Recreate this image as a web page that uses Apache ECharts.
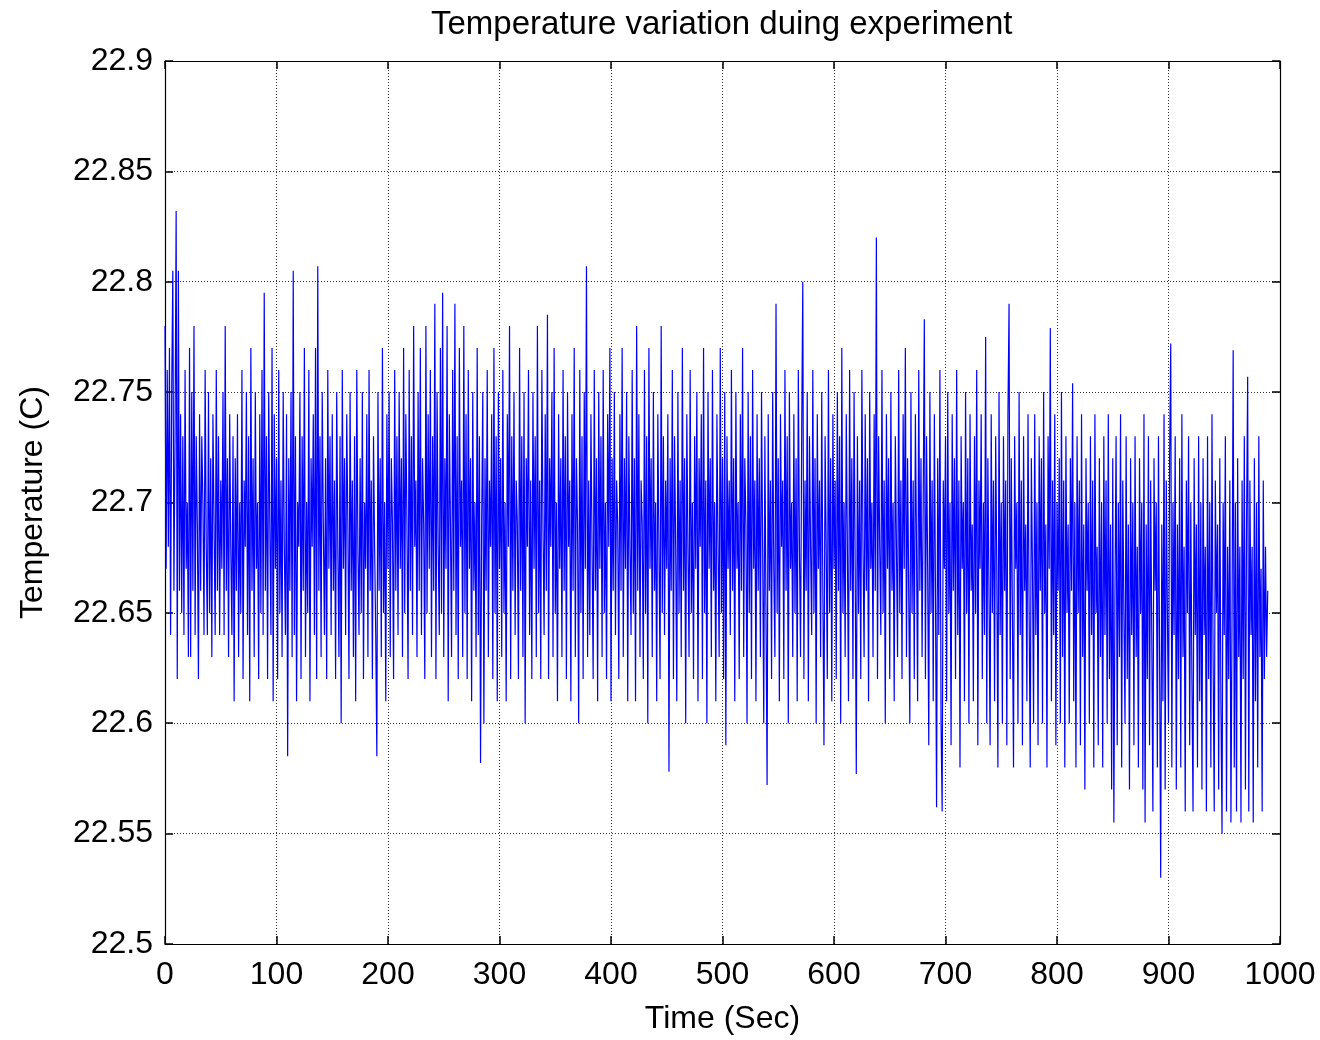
<!DOCTYPE html>
<html>
<head>
<meta charset="utf-8">
<script src="https://cdn.jsdelivr.net/npm/echarts@6/dist/echarts.min.js"></script>
<style>html,body{margin:0;padding:0;background:#fff}#c{width:1320px;height:1040px}</style>
</head>
<body>
<div id="c"></div>
<script>
const titleText = "Temperature variation duing experiment";
const xName = "Time (Sec)";
const yName = "Temperature (C)";
const timeStep = 1;
const xTicks = [0, 100, 200, 300, 400, 500, 600, 700, 800, 900, 1000];
const yTicks = [22.5, 22.55, 22.6, 22.65, 22.7, 22.75, 22.8, 22.85, 22.9];
const temps = [
22.78,22.67,22.76,22.68,22.77,22.64,22.75,22.805,22.66,22.73,22.832,22.62,22.805,22.66,22.74,22.65,22.73,22.64,22.76,22.67,22.70,22.63,22.77,22.63,22.75,22.66,22.78,22.64,22.73,22.69,
22.62,22.74,22.66,22.73,22.70,22.64,22.76,22.68,22.64,22.75,22.65,22.72,22.63,22.74,22.69,22.64,22.76,22.66,22.73,22.64,22.71,22.67,22.75,22.64,22.78,22.66,22.72,22.63,22.74,22.68,
22.64,22.73,22.61,22.72,22.66,22.74,22.63,22.70,22.65,22.76,22.62,22.71,22.68,22.75,22.64,22.73,22.61,22.77,22.66,22.72,22.63,22.75,22.67,22.70,22.62,22.74,22.65,22.76,22.64,22.795,
22.66,22.73,22.62,22.75,22.69,22.64,22.77,22.61,22.74,22.67,22.72,22.62,22.76,22.65,22.71,22.63,22.75,22.68,22.64,22.74,22.585,22.72,22.66,22.75,22.63,22.805,22.64,22.73,22.61,22.70,
22.68,22.75,22.62,22.73,22.66,22.77,22.63,22.70,22.65,22.76,22.61,22.72,22.68,22.74,22.64,22.77,22.62,22.807,22.66,22.73,22.63,22.75,22.69,22.64,22.72,22.62,22.76,22.67,22.73,22.64,
22.74,22.66,22.71,22.62,22.75,22.68,22.63,22.73,22.60,22.76,22.67,22.72,22.64,22.74,22.69,22.62,22.75,22.66,22.71,22.63,22.73,22.61,22.76,22.68,22.64,22.72,22.65,22.75,22.62,22.70,
22.67,22.74,22.63,22.76,22.66,22.71,22.62,22.73,22.68,22.64,22.585,22.75,22.66,22.72,22.63,22.77,22.65,22.70,22.61,22.74,22.67,22.75,22.63,22.72,22.69,22.62,22.76,22.66,22.73,22.64,
22.75,22.67,22.72,22.63,22.77,22.65,22.74,22.69,22.62,22.76,22.66,22.73,22.64,22.78,22.68,22.71,22.63,22.75,22.66,22.77,22.64,22.72,22.69,22.62,22.78,22.65,22.74,22.67,22.76,22.63,
22.73,22.66,22.79,22.62,22.75,22.68,22.64,22.77,22.65,22.795,22.63,22.72,22.67,22.78,22.61,22.74,22.69,22.63,22.76,22.66,22.79,22.64,22.73,22.62,22.77,22.68,22.71,22.63,22.78,22.65,
22.74,22.62,22.76,22.67,22.72,22.61,22.75,22.66,22.70,22.63,22.77,22.64,22.73,22.582,22.69,22.75,22.60,22.72,22.66,22.76,22.63,22.71,22.68,22.74,22.62,22.77,22.65,22.73,22.61,22.75,
22.67,22.72,22.63,22.76,22.65,22.70,22.61,22.74,22.68,22.78,22.62,22.73,22.66,22.75,22.64,22.71,22.69,22.62,22.77,22.66,22.73,22.63,22.75,22.60,22.72,22.68,22.76,22.64,22.71,22.62,
22.75,22.67,22.73,22.63,22.78,22.65,22.71,22.62,22.76,22.69,22.64,22.74,22.66,22.785,22.62,22.72,22.68,22.75,22.63,22.77,22.65,22.70,22.61,22.74,22.67,22.72,22.63,22.76,22.66,22.73,
22.62,22.75,22.68,22.71,22.61,22.74,22.66,22.77,22.63,22.72,22.69,22.60,22.76,22.65,22.73,22.62,22.75,22.67,22.807,22.63,22.71,22.64,22.74,22.68,22.62,22.76,22.66,22.72,22.61,22.75,
22.67,22.73,22.63,22.76,22.65,22.70,22.62,22.74,22.68,22.77,22.61,22.72,22.66,22.75,22.64,22.71,22.69,22.62,22.74,22.66,22.77,22.63,22.72,22.67,22.75,22.61,22.73,22.68,22.64,22.76,
22.65,22.72,22.61,22.78,22.66,22.74,22.63,22.71,22.69,22.62,22.76,22.65,22.73,22.60,22.77,22.67,22.72,22.63,22.75,22.66,22.70,22.61,22.74,22.68,22.62,22.78,22.65,22.73,22.64,22.71,
22.67,22.74,22.578,22.72,22.66,22.76,22.62,22.73,22.68,22.61,22.75,22.65,22.71,22.63,22.77,22.66,22.72,22.60,22.74,22.68,22.63,22.76,22.65,22.70,22.62,22.73,22.67,22.75,22.61,22.72,
22.68,22.74,22.62,22.77,22.65,22.71,22.60,22.75,22.67,22.72,22.63,22.76,22.66,22.70,22.61,22.74,22.68,22.63,22.77,22.65,22.72,22.62,22.75,22.59,22.73,22.67,22.71,22.64,22.76,22.66,
22.72,22.61,22.75,22.67,22.70,22.62,22.74,22.66,22.77,22.63,22.72,22.69,22.60,22.75,22.65,22.73,22.62,22.76,22.67,22.71,22.61,22.74,22.66,22.72,22.63,22.75,22.68,22.60,22.73,22.65,
22.572,22.74,22.66,22.71,22.62,22.75,22.67,22.63,22.79,22.65,22.72,22.61,22.74,22.68,22.71,22.62,22.76,22.66,22.73,22.60,22.75,22.67,22.70,22.63,22.74,22.65,22.72,22.61,22.76,22.68,
22.63,22.73,22.80,22.62,22.71,22.66,22.75,22.61,22.73,22.68,22.64,22.76,22.65,22.72,22.60,22.74,22.67,22.71,22.63,22.75,22.66,22.59,22.73,22.68,22.62,22.76,22.65,22.72,22.61,22.74,
22.67,22.71,22.62,22.75,22.66,22.73,22.60,22.77,22.65,22.70,22.63,22.74,22.68,22.61,22.76,22.66,22.72,22.62,22.75,22.67,22.577,22.73,22.65,22.71,22.62,22.76,22.68,22.63,22.74,22.66,
22.72,22.61,22.75,22.67,22.70,22.63,22.74,22.66,22.82,22.62,22.73,22.68,22.64,22.76,22.65,22.71,22.60,22.74,22.67,22.72,22.62,22.75,22.66,22.70,22.61,22.73,22.68,22.63,22.76,22.65,
22.71,22.62,22.74,22.67,22.77,22.63,22.72,22.66,22.60,22.75,22.65,22.71,22.62,22.74,22.68,22.61,22.76,22.66,22.72,22.63,22.70,22.783,22.62,22.73,22.67,22.59,22.75,22.65,22.71,22.61,
22.74,22.66,22.562,22.72,22.64,22.76,22.60,22.56,22.71,22.67,22.73,22.61,22.75,22.65,22.70,22.59,22.74,22.66,22.72,22.62,22.76,22.64,22.71,22.58,22.73,22.67,22.70,22.61,22.75,22.65,
22.72,22.60,22.74,22.66,22.69,22.61,22.73,22.65,22.76,22.59,22.71,22.67,22.74,22.62,22.70,22.64,22.775,22.60,22.72,22.66,22.59,22.74,22.65,22.71,22.61,22.73,22.67,22.58,22.75,22.64,
22.70,22.60,22.73,22.66,22.71,22.59,22.74,22.79,22.62,22.72,22.65,22.58,22.73,22.67,22.70,22.60,22.75,22.64,22.71,22.59,22.73,22.66,22.69,22.61,22.74,22.65,22.58,22.72,22.67,22.60,
22.74,22.64,22.70,22.59,22.73,22.66,22.72,22.60,22.75,22.65,22.69,22.58,22.73,22.67,22.779,22.61,22.71,22.64,22.74,22.59,22.70,22.66,22.72,22.60,22.75,22.63,22.71,22.58,22.73,22.65,
22.69,22.60,22.72,22.66,22.754,22.61,22.70,22.58,22.73,22.65,22.71,22.59,22.74,22.63,22.69,22.57,22.72,22.66,22.70,22.60,22.73,22.64,22.71,22.58,22.74,22.65,22.68,22.59,22.72,22.63,
22.70,22.58,22.73,22.64,22.71,22.60,22.74,22.62,22.69,22.57,22.72,22.555,22.66,22.73,22.59,22.70,22.63,22.74,22.58,22.71,22.65,22.60,22.73,22.62,22.69,22.57,22.72,22.64,22.70,22.59,
22.73,22.63,22.68,22.58,22.72,22.65,22.70,22.57,22.74,22.555,22.69,22.62,22.73,22.59,22.71,22.64,22.56,22.72,22.66,22.70,22.58,22.73,22.63,22.53,22.69,22.61,22.74,22.57,22.71,22.65,
22.60,22.72,22.772,22.58,22.70,22.64,22.73,22.57,22.69,22.62,22.72,22.58,22.74,22.63,22.68,22.56,22.71,22.65,22.73,22.59,22.70,22.62,22.56,22.72,22.64,22.69,22.58,22.73,22.61,22.70,
22.57,22.72,22.64,22.68,22.56,22.73,22.62,22.70,22.58,22.74,22.63,22.56,22.71,22.65,22.69,22.57,22.72,22.61,22.55,22.70,22.64,22.73,22.56,22.68,22.62,22.71,22.555,22.65,22.769,22.58,
22.70,22.56,22.72,22.63,22.68,22.555,22.71,22.62,22.73,22.57,22.69,22.757,22.56,22.71,22.64,22.68,22.555,22.72,22.61,22.70,22.58,22.73,22.63,22.67,22.56,22.71,22.62,22.68,22.63,22.66
];

const seriesData = temps.map((v, i) => [i * timeStep, v]);
const FONT = "'Liberation Sans', Arial, sans-serif";
const chart = echarts.init(document.getElementById('c'), null, {renderer: 'canvas'});
const xMin = xTicks[0], xMax = xTicks[xTicks.length - 1];
const yMin = yTicks[0], yMax = yTicks[yTicks.length - 1];
const gridLine = {show: true, lineStyle: {color: '#333', type: [1, 2], width: 1}};
const tick = {show: true, inside: true, length: 8, lineStyle: {color: '#000', width: 1.5}};
const axLine = {show: true, onZero: false, lineStyle: {color: '#000', width: 1.2}};
chart.setOption({
  animation: false,
  backgroundColor: '#fff',
  title: {
    text: titleText, left: 426, top: 3,
    textStyle: {fontFamily: FONT, fontSize: 33, fontWeight: 'normal', color: '#000'}
  },
  grid: {left: 165, right: 40, top: 61, bottom: 88, containLabel: false},
  xAxis: [
    {type: 'value', position: 'bottom', min: xMin, max: xMax, interval: 100,
     name: xName, nameLocation: 'middle', nameGap: 59,
     nameTextStyle: {fontFamily: FONT, fontSize: 32, color: '#000'},
     axisLine: axLine, axisTick: tick, splitLine: gridLine,
     axisLabel: {fontFamily: FONT, fontSize: 32, color: '#000', margin: 15,
       formatter: v => String(v)}},
    {type: 'value', position: 'top', min: xMin, max: xMax, interval: 100,
     axisLine: axLine, axisTick: tick, splitLine: {show: false}, axisLabel: {show: false}}
  ],
  yAxis: [
    {type: 'value', position: 'left', min: yMin, max: yMax, interval: 0.05,
     name: yName, nameLocation: 'middle', nameGap: 116, nameRotate: 90,
     nameTextStyle: {fontFamily: FONT, fontSize: 32, color: '#000'},
     axisLine: axLine, axisTick: tick, splitLine: gridLine,
     axisLabel: {fontFamily: FONT, fontSize: 32, color: '#000', margin: 12,
       formatter: v => String(parseFloat(v.toFixed(2)))}},
    {type: 'value', position: 'right', min: yMin, max: yMax, interval: 0.05,
     axisLine: axLine, axisTick: tick, splitLine: {show: false}, axisLabel: {show: false}}
  ],
  series: [{
    type: 'line', data: seriesData, xAxisIndex: 0, yAxisIndex: 0,
    showSymbol: false, symbol: 'none', sampling: null,
    lineStyle: {color: '#0000ff', width: 1.2}, itemStyle: {color: '#0000ff'}
  }]
});
</script>
</body>
</html>
